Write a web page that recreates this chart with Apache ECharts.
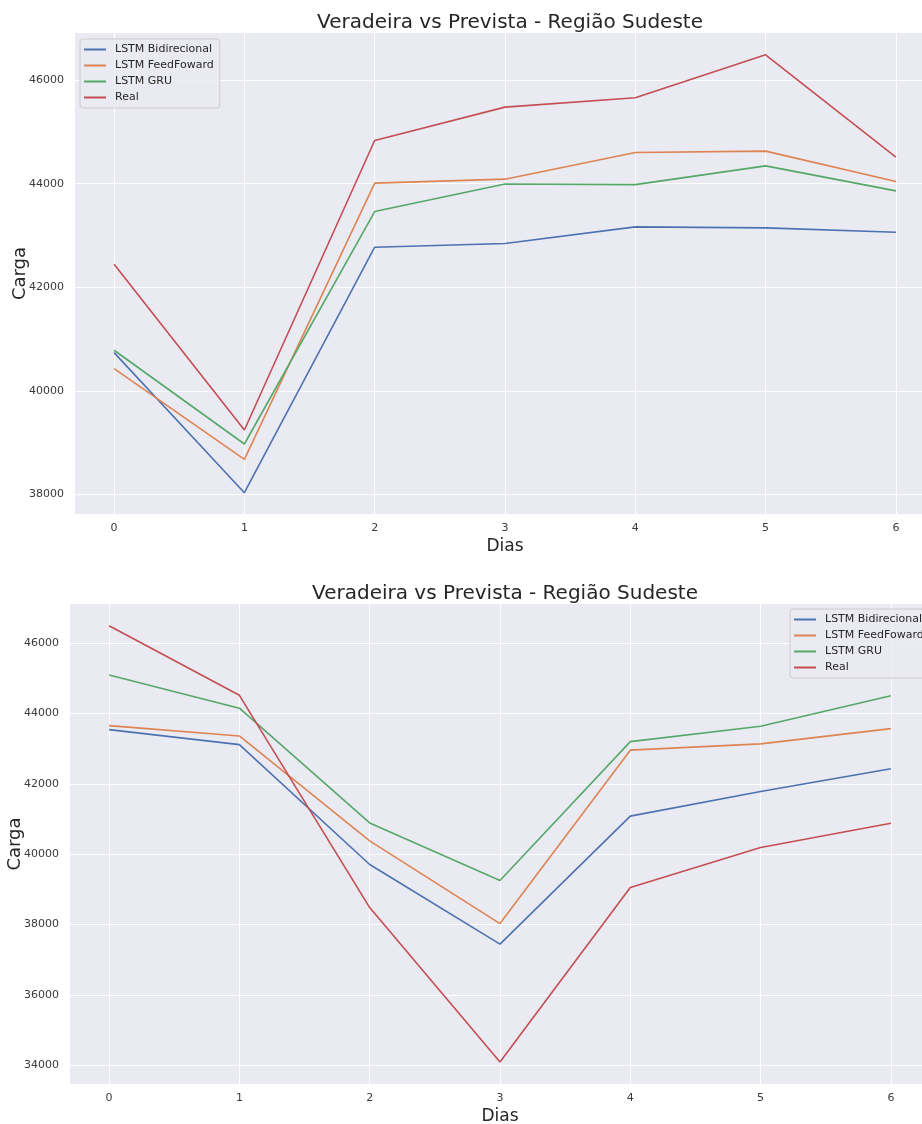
<!DOCTYPE html>
<html>
<head>
<meta charset="utf-8">
<script src="https://cdn.jsdelivr.net/npm/echarts@6/dist/echarts.min.js"></script>
<style>
html,body{margin:0;padding:0;background:#fff;}
#chart{width:922px;height:1124px;}
</style>
</head>
<body>
<div id="chart"></div>
<script>
const days = [0, 1, 2, 3, 4, 5, 6];
const seriesNames = ['LSTM Bidirecional', 'LSTM FeedFoward', 'LSTM GRU', 'Real'];
const titleText = 'Veradeira vs Prevista - Região Sudeste';
const xLabel = 'Dias';
const yLabel = 'Carga';

// Top chart
const topBidirecional = [40736, 38031, 42773, 42843, 43165, 43146, 43063];
const topFeedFoward   = [40427, 38676, 44010, 44087, 44601, 44628, 44041];
const topGRU          = [40783, 38972, 43461, 43994, 43981, 44344, 43861];
const topReal         = [42444, 39243, 44833, 45478, 45658, 46489, 44512];
const topYTicks = [38000, 40000, 42000, 44000, 46000];

// Bottom chart
const botBidirecional = [43539, 43113, 39708, 37444, 41083, 41781, 42426];
const botFeedFoward   = [43653, 43361, 40378, 38028, 42957, 43136, 43568];
const botGRU          = [45092, 44150, 40889, 39253, 43200, 43635, 44504];
const botReal         = [46491, 44515, 38483, 34097, 39055, 40190, 40880];
const botYTicks = [34000, 36000, 38000, 40000, 42000, 44000, 46000];

const colors = ['#4c72b0', '#dd8452', '#55a868', '#c44e52'];
const FONT = 'DejaVu Sans';

function pairs(vals) { return days.map((d, i) => [d, vals[i]]); }

function mkSeries(vals, idx, gi) {
  return {
    type: 'line',
    name: seriesNames[idx],
    xAxisIndex: gi, yAxisIndex: gi,
    data: pairs(vals),
    showSymbol: false,
    symbol: 'none',
    lineStyle: { color: colors[idx], width: 1.6 },
    itemStyle: { color: colors[idx] },
    emphasis: { disabled: true },
    z: 3 + idx
  };
}

function mkX(gi) {
  return {
    type: 'value', gridIndex: gi, min: -0.3, max: 6.3,
    name: xLabel, nameLocation: 'middle', nameGap: 24,
    nameTextStyle: { fontFamily: FONT, fontSize: 17, color: '#262626' },
    axisLine: { show: false },
    axisTick: { show: false, customValues: days },
    axisLabel: { fontFamily: FONT, fontSize: 11, color: '#3a3a3a', margin: 9,
      customValues: days, formatter: v => String(v) },
    splitLine: { show: true, lineStyle: { color: '#ffffff', width: 1 } }
  };
}

function mkY(gi, mn, mx, ticks) {
  return {
    type: 'value', gridIndex: gi, min: mn, max: mx,
    name: yLabel, nameLocation: 'middle', nameGap: 46, nameMoveOverlap: false,
    nameTextStyle: { fontFamily: FONT, fontSize: 18, color: '#262626' },
    axisLine: { show: false },
    axisTick: { show: false, customValues: ticks },
    axisLabel: { fontFamily: FONT, fontSize: 11, color: '#3a3a3a', margin: 11,
      customValues: ticks, formatter: v => String(v) },
    splitLine: { show: true, lineStyle: { color: '#ffffff', width: 1 } }
  };
}

function mkLegend(pos) {
  return Object.assign({
    data: seriesNames,
    orient: 'vertical',
    icon: 'rect',
    itemWidth: 22, itemHeight: 2,
    itemGap: 3,
    padding: [4, 6, 4, 4],
    backgroundColor: 'rgba(234,234,242,0.8)',
    borderColor: '#cccccc', borderWidth: 1, borderRadius: 3,
    textStyle: { fontFamily: FONT, fontSize: 11, color: '#262626', padding: [0, 0, 0, 4], lineHeight: 13 },
    selectedMode: false
  }, pos);
}

const option = {
  animation: false,
  backgroundColor: '#ffffff',
  title: [
    { text: titleText, left: 505, top: 8, textAlign: 'center',
      textStyle: { fontFamily: FONT, fontSize: 20, fontWeight: 'normal', color: '#262626' } },
    { text: titleText, left: 500, top: 579, textAlign: 'center',
      textStyle: { fontFamily: FONT, fontSize: 20, fontWeight: 'normal', color: '#262626' } }
  ],
  legend: [
    mkLegend({ left: 80, top: 39 }),
    mkLegend({ left: 790, top: 609 })
  ],
  grid: [
    { left: 75, top: 33, width: 860, height: 481, backgroundColor: '#eaeaf2', show: true, borderWidth: 0,
      containLabel: false, outerBoundsMode: 'none' },
    { left: 70, top: 604, width: 860, height: 480, backgroundColor: '#eaeaf2', show: true, borderWidth: 0,
      containLabel: false, outerBoundsMode: 'none' }
  ],
  xAxis: [mkX(0), mkX(1)],
  yAxis: [mkY(0, 37620, 46910, topYTicks), mkY(1, 33470, 47110, botYTicks)],
  series: [
    mkSeries(topBidirecional, 0, 0),
    mkSeries(topFeedFoward, 1, 0),
    mkSeries(topGRU, 2, 0),
    mkSeries(topReal, 3, 0),
    mkSeries(botBidirecional, 0, 1),
    mkSeries(botFeedFoward, 1, 1),
    mkSeries(botGRU, 2, 1),
    mkSeries(botReal, 3, 1)
  ]
};

const chart = echarts.init(document.getElementById('chart'), null, { renderer: 'canvas' });
chart.setOption(option);
</script>
</body>
</html>
